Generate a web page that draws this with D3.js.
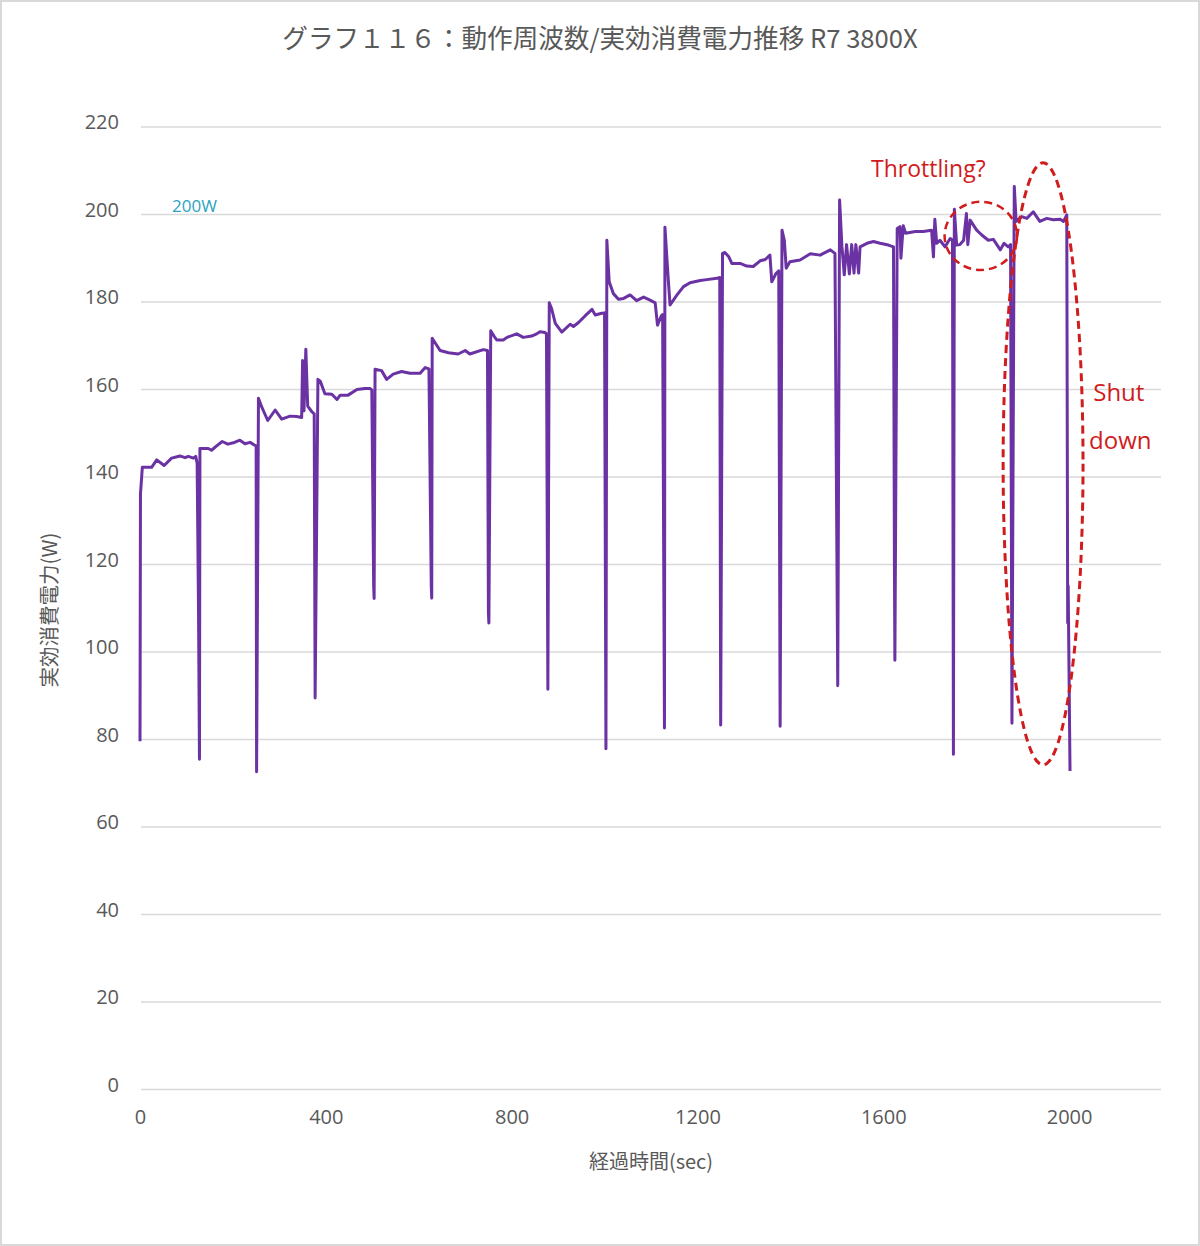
<!DOCTYPE html>
<html><head><meta charset="utf-8">
<script src="https://cdn.jsdelivr.net/npm/d3@7"></script>
<style>
html,body{margin:0;padding:0;background:#fff;}
svg{display:block;}
</style></head>
<body>
<svg id="chart" width="1200" height="1246"></svg>
<script>
// ---- data ----
const chartTitle = "グラフ１１６：動作周波数/実効消費電力推移 R7 3800X";
const xAxisTitle = "経過時間(sec)";
const yAxisTitle = "実効消費電力(W)";
const xTicks = [0, 400, 800, 1200, 1600, 2000];
const yTicks = [0, 20, 40, 60, 80, 100, 120, 140, 160, 180, 200, 220];
const timeSec = [
  0, 1, 5, 25, 36, 52, 68, 86, 97, 104, 115, 120, 123, 126, 128, 129,
  147, 154, 165, 177, 189, 201, 215, 226, 237, 246, 250, 251, 255,
  262, 275, 291, 305, 323, 337, 348, 350, 353, 357, 361, 370, 375, 377, 383,
  388, 398, 413, 424, 431, 448, 467, 484, 495, 499, 503, 504, 506,
  520, 531, 545, 563, 581, 603, 614, 622, 627, 628, 629,
  646, 664, 685, 700, 710, 739, 748, 750, 751, 755,
  762, 768, 782, 790, 811, 825, 843, 854, 861, 872, 875, 878, 881,
  886, 894, 908, 926, 933, 944, 958, 973, 980, 994, 1000, 1003, 1005,
  1010, 1019, 1030, 1041, 1055, 1069, 1084, 1098, 1109, 1114, 1122, 1125, 1129, 1130,
  1137, 1141, 1156, 1170, 1184, 1206, 1220, 1242, 1248, 1250, 1254,
  1259, 1267, 1274, 1292, 1306, 1320, 1335, 1346, 1356, 1360, 1369, 1375, 1378, 1382,
  1387, 1391, 1399, 1421, 1443, 1464, 1486, 1496, 1502, 1506,
  1511, 1516, 1521, 1527, 1532, 1537, 1541, 1547, 1550,
  1565, 1579, 1593, 1611, 1622, 1624, 1625, 1630,
  1636, 1638, 1643, 1648, 1669, 1686, 1704, 1708, 1711, 1715, 1722, 1733, 1744, 1749, 1751, 1753,
  1758, 1765, 1773, 1779, 1782, 1787, 1801, 1812, 1826, 1837, 1852, 1860, 1869, 1874, 1876, 1877, 1882,
  1886, 1898, 1909, 1923, 1937, 1952, 1966, 1981, 1988, 1995, 1997, 1998, 2002
];
const powerW = [
  79.5, 136, 142.1, 142.1, 143.8, 142.5, 144.2, 144.7, 144.3, 144.6, 144.2, 144.6, 143, 109, 75.4, 146.4,
  146.4, 146, 147, 148, 147.4, 147.7, 148.3, 147.5, 147.8, 147.2, 147, 72.5, 157.9,
  155.9, 152.8, 155.2, 153.1, 153.8, 153.7, 153.5, 166.5, 155, 169.1, 156.1, 154.8, 154.3, 89.4, 162.2,
  161.8, 158.9, 158.8, 157.6, 158.6, 158.6, 159.9, 160.1, 160.1, 159.8, 115, 112.1, 164.5,
  164.2, 162.2, 163.4, 164, 163.6, 163.6, 164.9, 164.6, 115, 112.2, 171.6,
  168.8, 168.3, 168, 168.8, 168, 169, 168.8, 109, 106.5, 173.3,
  172.1, 171.2, 171.2, 171.8, 172.6, 171.8, 172.1, 172.6, 173.1, 172.9, 172.6, 91.4, 179.7,
  178.4, 175, 173, 174.8, 174.3, 175.2, 176.7, 178.2, 176.9, 177.3, 177.4, 77.8, 194,
  184.5, 181.8, 180.5, 180.7, 181.5, 180.2, 181, 180.3, 179.7, 174.6, 176.7, 177, 82.5, 197,
  185.3, 179.2, 181.5, 183.4, 184.3, 184.8, 185, 185.3, 185.5, 83.2, 191,
  191.2, 190.3, 188.7, 188.7, 188.1, 188, 189.3, 189.6, 190.6, 184.5, 186.4, 187, 82.9, 196.3,
  194, 187.6, 189.1, 189.5, 190.9, 190.6, 191.8, 191, 92.2, 203.2,
  192.6, 186.1, 193, 186.3, 193, 186.5, 193, 186.5, 192.5,
  193.3, 193.7, 193.3, 192.9, 192.5, 120, 98, 196.7,
  197.1, 189.9, 197.3, 195.6, 196, 196, 196.3, 190.2, 198.8, 193.3, 194, 192.5, 194.4, 194, 76.5, 201.1,
  192.9, 193, 194, 200.1, 193, 198.6, 196.3, 195.2, 194, 194.2, 191.8, 193.3, 192.5, 193, 120, 83.6, 206.3,
  198.3, 199.4, 199, 200.5, 198.3, 199, 198.7, 198.8, 198.3, 199.8, 106.6, 115, 72.7
];
// annotations (data coordinates)
const thrText = {t: 1697, w: 208.5, label: "Throttling?"};
const thrCircle = {t: 1810, w: 195, rt: 78, rw: 7.8};
const shutEllipse = {t: 1944, w: 142.9, rt: 86, rw: 68.8};
const shutText = [{t: 2052, w: 157.3, label: "Shut"}, {t: 2043, w: 146.2, label: "down"}];
const refText = {t: 69, w: 200.4, label: "200W"};

// ---- layout ----
const W = 1200, H = 1246;
const svg = d3.select("#chart");
const x = d3.scaleLinear().domain([0, 2200]).range([140, 1162]);
const y = d3.scaleLinear().domain([0, 220]).range([1089, 126.5]);
const fontJP = "'Noto Sans CJK JP', 'Noto Sans', sans-serif";
const fontLat = "'Open Sans', 'Noto Sans', 'DejaVu Sans', sans-serif";
const gray = "#595959";

svg.append("rect").attr("x", 1).attr("y", 1).attr("width", W - 2).attr("height", H - 2)
  .attr("fill", "#fff").attr("stroke", "#d9d9d9").attr("stroke-width", 2);

svg.append("text").attr("x", 600).attr("y", 48).attr("text-anchor", "middle")
  .attr("font-family", fontJP).attr("font-size", 25.6).attr("fill", gray).text(chartTitle);

// gridlines + y labels
const yAxis = d3.axisLeft(y).tickValues(yTicks).tickSize(-(1161 - 141)).tickPadding(22).tickFormat(d3.format("d"));
const gy = svg.append("g").attr("transform", "translate(141,0)").call(yAxis);
gy.select(".domain").remove();
gy.selectAll(".tick line").attr("stroke", "#d9d9d9").attr("stroke-width", 1.5);
gy.selectAll(".tick text").attr("font-family", fontLat).attr("font-size", 20).attr("fill", gray).attr("dy", "0.1em");

const xAxis = d3.axisBottom(x).tickValues(xTicks).tickSize(0).tickPadding(21).tickFormat(d3.format("d"));
const gx = svg.append("g").attr("transform", "translate(0,1089)").call(xAxis);
gx.select(".domain").remove();
gx.selectAll(".tick text").attr("font-family", fontLat).attr("font-size", 20).attr("fill", gray);

svg.append("text").attr("x", 651).attr("y", 1169).attr("text-anchor", "middle")
  .attr("font-family", fontJP).attr("font-size", 20).attr("fill", gray).text(xAxisTitle);
svg.append("text").attr("transform", "translate(57,610) rotate(-90)").attr("text-anchor", "middle")
  .attr("font-family", fontJP).attr("font-size", 20.5).attr("fill", gray).text(yAxisTitle);

// line
const pts = timeSec.map((t, i) => [t, powerW[i]]);
const line = d3.line().x(d => x(d[0])).y(d => y(d[1]));
svg.append("path").datum(pts).attr("d", line).attr("fill", "none")
  .attr("stroke", "#6b32a3").attr("stroke-width", 3).attr("stroke-linejoin", "round");

// annotations
const red = "#d01c1c";
svg.append("text").attr("x", x(refText.t)).attr("y", y(refText.w))
  .attr("font-family", fontLat).attr("font-size", 17).attr("fill", "#2ba3bf").text(refText.label);
svg.append("text").attr("x", x(thrText.t)).attr("y", y(thrText.w)).attr("text-anchor", "middle")
  .attr("font-family", fontLat).attr("font-size", 23).attr("fill", red).text(thrText.label);
svg.append("ellipse").attr("cx", x(thrCircle.t)).attr("cy", y(thrCircle.w))
  .attr("rx", x(thrCircle.rt) - x(0)).attr("ry", y(0) - y(thrCircle.rw))
  .attr("fill", "none").attr("stroke", red).attr("stroke-width", 2.5).attr("stroke-dasharray", "8,5");
svg.append("ellipse").attr("cx", x(shutEllipse.t)).attr("cy", y(shutEllipse.w))
  .attr("rx", x(shutEllipse.rt) - x(0)).attr("ry", y(0) - y(shutEllipse.rw))
  .attr("fill", "none").attr("stroke", red).attr("stroke-width", 3).attr("stroke-dasharray", "8,5");
shutText.forEach(s => {
  svg.append("text").attr("x", x(s.t)).attr("y", y(s.w))
    .attr("font-family", fontLat).attr("font-size", 24).attr("fill", red).text(s.label);
});
</script>
</body></html>
